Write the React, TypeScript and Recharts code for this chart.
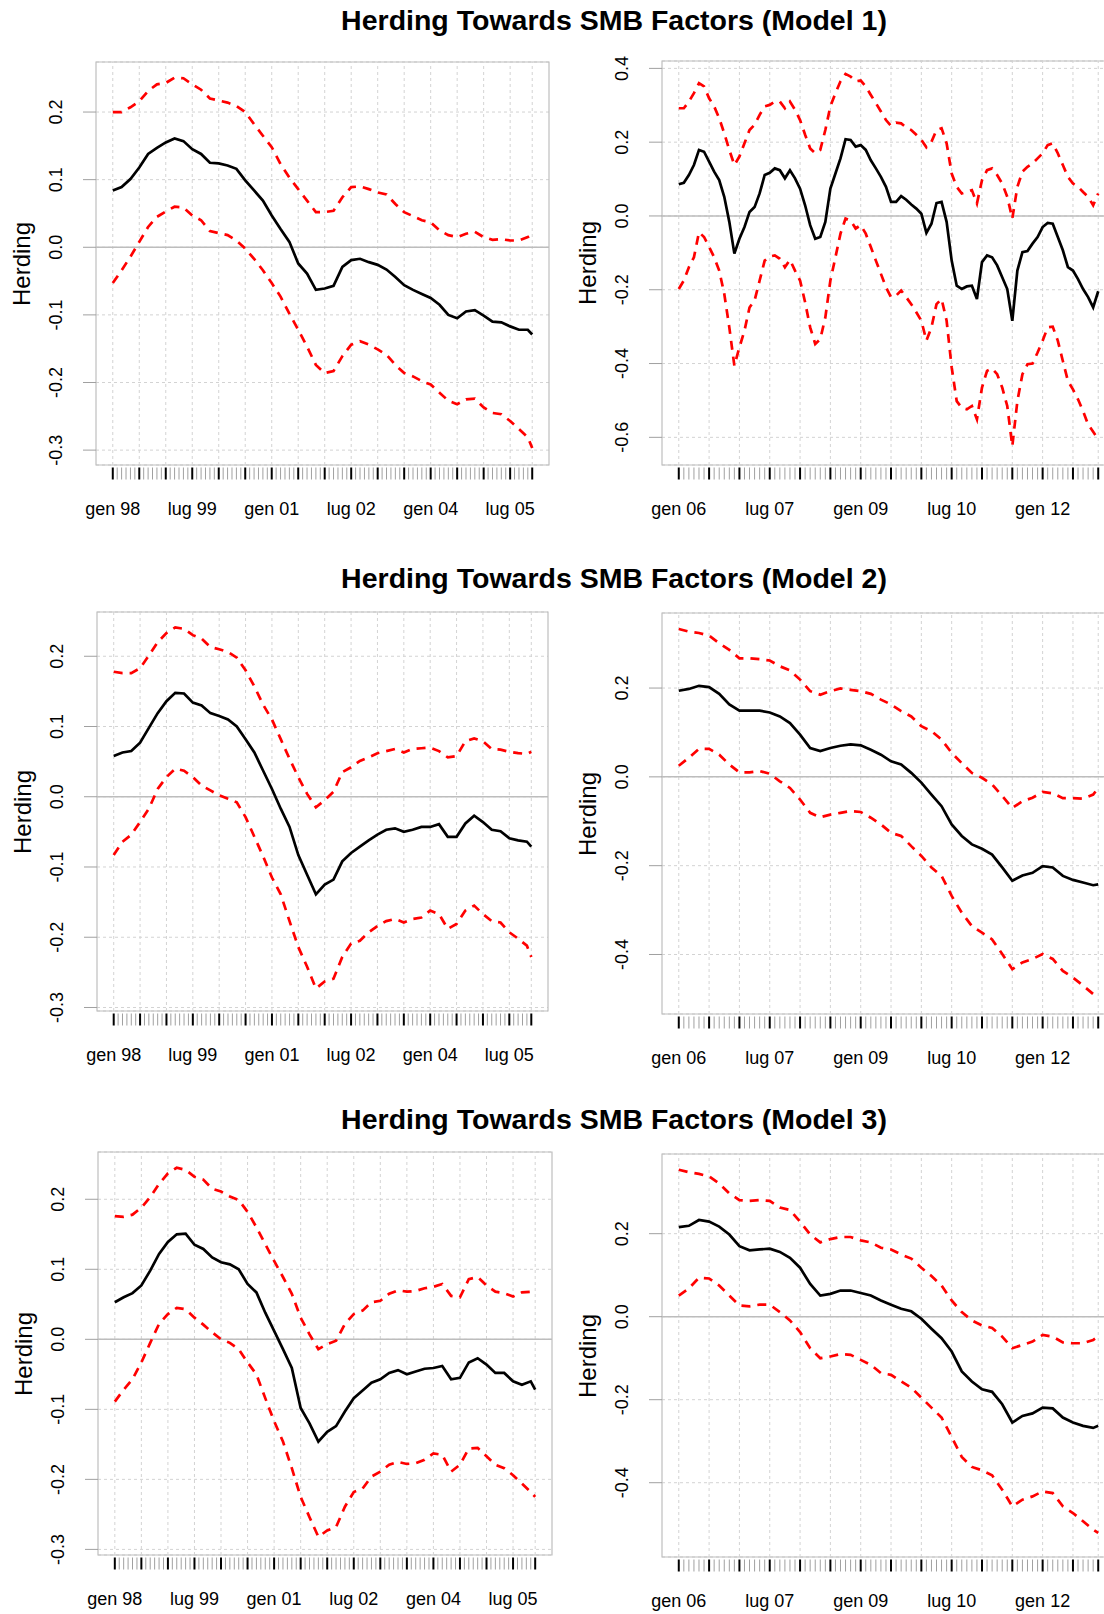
import React from 'react'
import { LineChart, Line, XAxis, YAxis, CartesianGrid, ReferenceLine, ReferenceArea } from 'recharts'

const FONT = '"Liberation Sans", Arial, sans-serif'

// month index 0 = gen 98 (left panels) / gen 06 (right panels)
const LEFT_MONTHS = [...Array.from({ length: 48 }, (_, i) => i * 2), 95]
const RIGHT_MONTHS = [...Array.from({ length: 42 }, (_, i) => i * 2), 83]
const TR_MONTHS = Array.from({ length: 84 }, (_, i) => i)

const LEFT_LABELS = ['gen 98', 'lug 99', 'gen 01', 'lug 02', 'gen 04', 'lug 05']
const LEFT_LABEL_MONTHS = [0, 18, 36, 54, 72, 90]
const RIGHT_LABELS = ['gen 06', 'lug 07', 'gen 09', 'lug 10', 'gen 12']
const RIGHT_LABEL_MONTHS = [0, 18, 36, 54, 72]

const TITLES = [
  'Herding Towards SMB Factors (Model 1)',
  'Herding Towards SMB Factors (Model 2)',
  'Herding Towards SMB Factors (Model 3)',
]

// Model 1, 1998-2005
const TL_EST = [0.084, 0.089, 0.101, 0.118, 0.138, 0.147, 0.155, 0.161, 0.157, 0.145,
  0.138, 0.125, 0.124, 0.121, 0.116, 0.099, 0.084, 0.069, 0.047, 0.027,
  0.008, -0.024, -0.039, -0.063, -0.061, -0.057, -0.029, -0.019, -0.017, -0.022,
  -0.026, -0.033, -0.044, -0.056, -0.063, -0.069, -0.075, -0.085, -0.100, -0.105,
  -0.095, -0.093, -0.101, -0.110, -0.111, -0.117, -0.122, -0.122, -0.129]
const TL_HI = [0.200, 0.200, 0.207, 0.216, 0.231, 0.241, 0.243, 0.251, 0.250, 0.241,
  0.233, 0.220, 0.217, 0.214, 0.209, 0.200, 0.182, 0.165, 0.148, 0.123,
  0.103, 0.086, 0.069, 0.052, 0.052, 0.054, 0.074, 0.089, 0.090, 0.086,
  0.081, 0.078, 0.064, 0.052, 0.046, 0.040, 0.037, 0.025, 0.018, 0.015,
  0.020, 0.023, 0.015, 0.011, 0.012, 0.010, 0.010, 0.015, 0.019]
const TL_LO = [-0.053, -0.034, -0.014, 0.008, 0.030, 0.045, 0.053, 0.060, 0.059, 0.047,
  0.040, 0.024, 0.021, 0.018, 0.010, -0.002, -0.017, -0.034, -0.053, -0.073,
  -0.098, -0.122, -0.147, -0.174, -0.186, -0.183, -0.161, -0.144, -0.139, -0.144,
  -0.151, -0.159, -0.174, -0.186, -0.191, -0.198, -0.203, -0.215, -0.227, -0.232,
  -0.225, -0.224, -0.237, -0.245, -0.247, -0.257, -0.269, -0.281, -0.297]

// Model 1, 2006-2012 (monthly)
const TR_EST = [0.086, 0.090, 0.111, 0.138, 0.179, 0.174, 0.147, 0.120, 0.097, 0.052,
  -0.016, -0.102, -0.062, -0.030, 0.011, 0.024, 0.061, 0.111, 0.117, 0.129,
  0.124, 0.102, 0.124, 0.102, 0.074, 0.029, -0.025, -0.062, -0.057, -0.016,
  0.074, 0.115, 0.156, 0.208, 0.206, 0.188, 0.192, 0.179, 0.151, 0.129,
  0.106, 0.079, 0.038, 0.038, 0.054, 0.044, 0.031, 0.020, 0.006, -0.046,
  -0.021, 0.035, 0.038, -0.016, -0.121, -0.189, -0.198, -0.191, -0.189, -0.225,
  -0.125, -0.107, -0.112, -0.134, -0.166, -0.198, -0.284, -0.148, -0.098, -0.095,
  -0.075, -0.057, -0.030, -0.019, -0.021, -0.057, -0.093, -0.139, -0.148, -0.171,
  -0.198, -0.220, -0.248, -0.204]
const TR_HI = [0.292, 0.292, 0.310, 0.333, 0.360, 0.351, 0.319, 0.297, 0.265, 0.224,
  0.179, 0.138, 0.161, 0.197, 0.233, 0.247, 0.274, 0.297, 0.301, 0.310,
  0.310, 0.292, 0.310, 0.288, 0.260, 0.220, 0.183, 0.170, 0.179, 0.233,
  0.297, 0.333, 0.365, 0.385, 0.378, 0.365, 0.367, 0.351, 0.328, 0.306,
  0.283, 0.260, 0.244, 0.253, 0.251, 0.240, 0.233, 0.220, 0.206, 0.186,
  0.201, 0.233, 0.238, 0.197, 0.115, 0.079, 0.061, 0.065, 0.070, 0.034,
  0.097, 0.124, 0.129, 0.111, 0.088, 0.052, -0.007, 0.079, 0.120, 0.133,
  0.142, 0.156, 0.170, 0.192, 0.197, 0.170, 0.138, 0.106, 0.088, 0.079,
  0.065, 0.052, 0.029, 0.061]
const TR_LO = [-0.198, -0.175, -0.139, -0.112, -0.044, -0.057, -0.084, -0.112, -0.148, -0.211,
  -0.302, -0.406, -0.356, -0.311, -0.248, -0.229, -0.175, -0.121, -0.110, -0.107,
  -0.116, -0.139, -0.119, -0.148, -0.175, -0.234, -0.302, -0.347, -0.334, -0.275,
  -0.175, -0.112, -0.048, -0.007, -0.012, -0.034, -0.025, -0.048, -0.084, -0.121,
  -0.157, -0.193, -0.220, -0.216, -0.202, -0.220, -0.239, -0.261, -0.284, -0.338,
  -0.302, -0.239, -0.225, -0.284, -0.410, -0.502, -0.520, -0.524, -0.515, -0.551,
  -0.465, -0.420, -0.413, -0.429, -0.465, -0.515, -0.624, -0.502, -0.429, -0.402,
  -0.400, -0.370, -0.338, -0.302, -0.300, -0.338, -0.393, -0.447, -0.470, -0.497,
  -0.529, -0.565, -0.585, -0.605]

// Model 2, 1998-2005
const ML_EST = [0.058, 0.063, 0.065, 0.077, 0.098, 0.119, 0.136, 0.148, 0.147, 0.134,
  0.130, 0.119, 0.115, 0.110, 0.100, 0.082, 0.063, 0.037, 0.011, -0.017,
  -0.043, -0.083, -0.111, -0.139, -0.125, -0.118, -0.092, -0.080, -0.071, -0.062,
  -0.054, -0.047, -0.045, -0.050, -0.047, -0.043, -0.043, -0.039, -0.057, -0.057,
  -0.038, -0.027, -0.036, -0.047, -0.049, -0.059, -0.062, -0.064, -0.071]
const ML_HI = [0.178, 0.176, 0.176, 0.183, 0.201, 0.220, 0.233, 0.241, 0.239, 0.230,
  0.225, 0.213, 0.210, 0.206, 0.198, 0.180, 0.157, 0.131, 0.110, 0.082,
  0.054, 0.028, 0.004, -0.015, -0.005, 0.007, 0.035, 0.042, 0.051, 0.056,
  0.062, 0.065, 0.068, 0.063, 0.068, 0.069, 0.070, 0.065, 0.056, 0.058,
  0.079, 0.083, 0.079, 0.068, 0.067, 0.064, 0.062, 0.061, 0.064]
const ML_LO = [-0.083, -0.064, -0.054, -0.036, -0.017, 0.011, 0.028, 0.040, 0.037, 0.028,
  0.016, 0.009, 0.002, -0.003, -0.008, -0.029, -0.057, -0.085, -0.115, -0.139,
  -0.177, -0.214, -0.242, -0.273, -0.263, -0.259, -0.228, -0.209, -0.205, -0.193,
  -0.184, -0.177, -0.174, -0.179, -0.174, -0.172, -0.162, -0.167, -0.188, -0.181,
  -0.162, -0.155, -0.167, -0.177, -0.179, -0.193, -0.202, -0.212, -0.228]

// Model 2, 2006-2012
const MR_EST = [0.194, 0.198, 0.205, 0.202, 0.187, 0.163, 0.149, 0.149, 0.149, 0.145,
  0.136, 0.121, 0.095, 0.065, 0.058, 0.065, 0.070, 0.073, 0.071, 0.061,
  0.050, 0.035, 0.028, 0.009, -0.013, -0.040, -0.066, -0.107, -0.133, -0.152,
  -0.162, -0.175, -0.204, -0.234, -0.222, -0.216, -0.201, -0.204, -0.223, -0.232,
  -0.238, -0.244, -0.242]
const MR_HI = [0.333, 0.327, 0.324, 0.318, 0.301, 0.286, 0.267, 0.267, 0.265, 0.262,
  0.249, 0.240, 0.219, 0.193, 0.185, 0.193, 0.199, 0.196, 0.193, 0.187,
  0.174, 0.163, 0.148, 0.136, 0.114, 0.103, 0.084, 0.054, 0.031, 0.009,
  -0.002, -0.017, -0.043, -0.070, -0.055, -0.047, -0.034, -0.037, -0.048, -0.048,
  -0.049, -0.040, -0.025]
const MR_LO = [0.025, 0.043, 0.063, 0.063, 0.050, 0.028, 0.010, 0.010, 0.013, 0.007,
  -0.010, -0.025, -0.051, -0.081, -0.091, -0.085, -0.081, -0.077, -0.079, -0.092,
  -0.107, -0.126, -0.133, -0.156, -0.178, -0.204, -0.223, -0.268, -0.306, -0.336,
  -0.351, -0.366, -0.399, -0.433, -0.418, -0.410, -0.399, -0.410, -0.437, -0.452,
  -0.470, -0.489, -0.491]

// Model 3, 1998-2005
const BL_EST = [0.053, 0.060, 0.066, 0.077, 0.098, 0.122, 0.139, 0.150, 0.151, 0.135,
  0.129, 0.117, 0.110, 0.107, 0.100, 0.079, 0.067, 0.038, 0.012, -0.014,
  -0.041, -0.098, -0.120, -0.146, -0.132, -0.124, -0.103, -0.084, -0.073, -0.062,
  -0.057, -0.048, -0.044, -0.050, -0.046, -0.042, -0.041, -0.038, -0.057, -0.055,
  -0.033, -0.027, -0.036, -0.048, -0.048, -0.060, -0.065, -0.060, -0.072]
const BL_HI = [0.176, 0.175, 0.178, 0.188, 0.203, 0.222, 0.237, 0.245, 0.242, 0.232,
  0.228, 0.215, 0.211, 0.204, 0.199, 0.182, 0.160, 0.136, 0.112, 0.089,
  0.065, 0.031, 0.007, -0.014, -0.007, -0.002, 0.022, 0.036, 0.041, 0.053,
  0.055, 0.065, 0.070, 0.068, 0.069, 0.073, 0.075, 0.079, 0.062, 0.060,
  0.086, 0.089, 0.077, 0.068, 0.066, 0.061, 0.067, 0.068, 0.068]
const BL_LO = [-0.089, -0.072, -0.057, -0.033, -0.005, 0.022, 0.036, 0.045, 0.043, 0.031,
  0.021, 0.010, 0.000, -0.005, -0.014, -0.033, -0.050, -0.084, -0.117, -0.146,
  -0.184, -0.225, -0.254, -0.282, -0.273, -0.268, -0.239, -0.218, -0.213, -0.196,
  -0.189, -0.179, -0.175, -0.178, -0.177, -0.172, -0.163, -0.165, -0.189, -0.179,
  -0.156, -0.155, -0.167, -0.179, -0.184, -0.194, -0.206, -0.218, -0.225]

// Model 3, 2006-2012
const BR_EST = [0.216, 0.219, 0.233, 0.229, 0.217, 0.198, 0.170, 0.160, 0.162, 0.164,
  0.156, 0.142, 0.118, 0.079, 0.051, 0.055, 0.063, 0.063, 0.057, 0.051,
  0.039, 0.029, 0.019, 0.013, -0.005, -0.029, -0.052, -0.084, -0.132, -0.156,
  -0.175, -0.181, -0.211, -0.255, -0.239, -0.233, -0.219, -0.221, -0.243, -0.255,
  -0.263, -0.268, -0.263]
const BR_HI = [0.354, 0.348, 0.344, 0.338, 0.321, 0.297, 0.281, 0.279, 0.281, 0.279,
  0.263, 0.257, 0.229, 0.198, 0.179, 0.187, 0.192, 0.192, 0.184, 0.179,
  0.166, 0.162, 0.150, 0.140, 0.118, 0.098, 0.075, 0.039, 0.011, -0.009,
  -0.021, -0.027, -0.048, -0.076, -0.068, -0.060, -0.044, -0.048, -0.062, -0.064,
  -0.064, -0.056, -0.048]
const BR_LO = [0.051, 0.068, 0.094, 0.092, 0.075, 0.051, 0.027, 0.025, 0.029, 0.029,
  0.011, -0.009, -0.037, -0.076, -0.100, -0.096, -0.090, -0.092, -0.104, -0.116,
  -0.136, -0.140, -0.156, -0.171, -0.195, -0.219, -0.243, -0.290, -0.338, -0.362,
  -0.370, -0.382, -0.417, -0.457, -0.441, -0.433, -0.421, -0.425, -0.457, -0.473,
  -0.493, -0.513, -0.521]

const TICKS_01 = [-0.3, -0.2, -0.1, 0, 0.1, 0.2]
const TICKS_TR = [-0.6, -0.4, -0.2, 0, 0.2, 0.4]
const TICKS_02 = [-0.4, -0.2, 0, 0.2]

const Y_AXIS_W = 100
const PAD_TOP = 10
const PAD_RIGHT = 10
const X_AXIS_H = 60

const toRows = (months: number[], est: number[], hi: number[], lo: number[]) =>
  months.map((t, i) => ({ t, est: est[i], hi: hi[i], lo: lo[i] }))

const range = (n: number) => Array.from({ length: n }, (_, i) => i)

interface PanelProps {
  rows: Array<{ t: number; est: number; hi: number; lo: number }>
  nMonths: number
  labels: string[]
  labelMonths: number[]
  xDomain: [number, number]
  yDomain: [number, number]
  yTicks: number[]
  frame: { left: number; top: number; width: number; height: number }
}

function Panel({ rows, nMonths, labels, labelMonths, xDomain, yDomain, yTicks, frame }: PanelProps) {
  const months = range(nMonths)
  const last = nMonths - 1
  const majors = [...months.filter((m) => m % 6 === 0), last]
  const plotBottom = PAD_TOP + frame.height

  const XTick = (props: any) => {
    const { x, payload } = props
    const m = payload.value
    const major = majors.includes(m)
    const li = labelMonths.indexOf(m)
    return (
      <g>
        <line x1={x} x2={x} y1={plotBottom + 2.5} y2={plotBottom + 14.5}
          stroke={major ? '#000' : '#a0a0a0'} strokeWidth={major ? 2 : 1} />
        {li >= 0 && (
          <text x={x} y={plotBottom + 44} textAnchor="middle" dominantBaseline="central"
            fontSize={18} fontFamily={FONT} fill="#000">{labels[li]}</text>
        )}
      </g>
    )
  }

  const YTick = (props: any) => {
    const { y, payload } = props
    const lx = Y_AXIS_W - 40
    return (
      <g>
        <line x1={Y_AXIS_W - 13} x2={Y_AXIS_W} y1={y} y2={y} stroke="#a0a0a0" />
        <text x={lx} y={y} transform={`rotate(-90 ${lx} ${y})`} textAnchor="middle"
          dominantBaseline="central" fontSize={18} fontFamily={FONT} fill="#000">
          {payload.value.toFixed(1)}
        </text>
      </g>
    )
  }

  return (
    <>
      <div style={{ position: 'absolute', left: frame.left - Y_AXIS_W, top: frame.top - PAD_TOP }}>
        <LineChart
          width={Y_AXIS_W + frame.width + PAD_RIGHT}
          height={PAD_TOP + frame.height + X_AXIS_H}
          data={rows}
          margin={{ top: PAD_TOP, right: PAD_RIGHT, left: 0, bottom: 0 }}
        >
          <CartesianGrid vertical={false} stroke="#d3d3d3" strokeDasharray="3 3" />
          <XAxis
            dataKey="t"
            type="number"
            domain={xDomain}
            allowDataOverflow
            ticks={months}
            interval={0}
            tick={XTick}
            tickLine={false}
            axisLine={false}
            height={X_AXIS_H}
          />
          <YAxis
            type="number"
            domain={yDomain}
            allowDataOverflow
            ticks={yTicks}
            interval={0}
            tick={YTick}
            tickLine={false}
            axisLine={false}
            width={Y_AXIS_W}
          />
          {majors.map((m) => (
            <ReferenceLine key={m} x={m} stroke="#d3d3d3" strokeDasharray="3 3" />
          ))}
          <ReferenceLine y={0} stroke="#bdbdbd" strokeWidth={1.5} />
          <ReferenceArea x1={xDomain[0]} x2={xDomain[1]} y1={yDomain[0]} y2={yDomain[1]}
            fill="none" fillOpacity={0} stroke="#bebebe" strokeWidth={1.2} />
          <Line dataKey="hi" type="linear" stroke="#ff0000" strokeWidth={2.7}
            strokeDasharray="9 7" dot={false} isAnimationActive={false} />
          <Line dataKey="lo" type="linear" stroke="#ff0000" strokeWidth={2.7}
            strokeDasharray="9 7" dot={false} isAnimationActive={false} />
          <Line dataKey="est" type="linear" stroke="#000" strokeWidth={2.7}
            dot={false} isAnimationActive={false} />
        </LineChart>
      </div>
      <div
        style={{
          position: 'absolute',
          left: frame.left - 74,
          top: frame.top + frame.height / 2,
          transform: 'translate(-50%, -50%) rotate(-90deg)',
          fontFamily: FONT,
          fontSize: 24,
          whiteSpace: 'nowrap',
          lineHeight: 1,
        }}
      >
        Herding
      </div>
    </>
  )
}

const LEFT_X: [number, number] = [-3.8, 98.8]
const RIGHT_X: [number, number] = [-3.32, 86.32]

export default function App() {
  const titleStyle = (cy: number): React.CSSProperties => ({
    position: 'absolute',
    left: 614,
    top: cy,
    transform: 'translate(-50%, -50%)',
    fontFamily: FONT,
    fontWeight: 700,
    fontSize: 28.5,
    whiteSpace: 'nowrap',
    lineHeight: 1,
  })

  return (
    <div style={{ position: 'absolute', left: 0, top: 0, width: 1104, height: 1614, overflow: 'hidden', background: '#fff' }}>
      <div style={titleStyle(20)}>{TITLES[0]}</div>
      <div style={titleStyle(578)}>{TITLES[1]}</div>
      <div style={titleStyle(1119)}>{TITLES[2]}</div>

      <Panel rows={toRows(LEFT_MONTHS, TL_EST, TL_HI, TL_LO)} nMonths={96}
        labels={LEFT_LABELS} labelMonths={LEFT_LABEL_MONTHS}
        xDomain={LEFT_X} yDomain={[-0.322, 0.274]} yTicks={TICKS_01}
        frame={{ left: 96, top: 62, width: 453, height: 403 }} />
      <Panel rows={toRows(TR_MONTHS, TR_EST, TR_HI, TR_LO)} nMonths={84}
        labels={RIGHT_LABELS} labelMonths={RIGHT_LABEL_MONTHS}
        xDomain={RIGHT_X} yDomain={[-0.675, 0.42]} yTicks={TICKS_TR}
        frame={{ left: 662, top: 61, width: 453, height: 404 }} />

      <Panel rows={toRows(LEFT_MONTHS, ML_EST, ML_HI, ML_LO)} nMonths={96}
        labels={LEFT_LABELS} labelMonths={LEFT_LABEL_MONTHS}
        xDomain={LEFT_X} yDomain={[-0.305, 0.263]} yTicks={TICKS_01}
        frame={{ left: 97, top: 612, width: 451, height: 399 }} />
      <Panel rows={toRows(RIGHT_MONTHS, MR_EST, MR_HI, MR_LO)} nMonths={84}
        labels={RIGHT_LABELS} labelMonths={RIGHT_LABEL_MONTHS}
        xDomain={RIGHT_X} yDomain={[-0.534, 0.369]} yTicks={TICKS_02}
        frame={{ left: 662, top: 613, width: 453, height: 401 }} />

      <Panel rows={toRows(LEFT_MONTHS, BL_EST, BL_HI, BL_LO)} nMonths={96}
        labels={LEFT_LABELS} labelMonths={LEFT_LABEL_MONTHS}
        xDomain={LEFT_X} yDomain={[-0.308, 0.2675]} yTicks={TICKS_01}
        frame={{ left: 98, top: 1152, width: 454, height: 403 }} />
      <Panel rows={toRows(RIGHT_MONTHS, BR_EST, BR_HI, BR_LO)} nMonths={84}
        labels={RIGHT_LABELS} labelMonths={RIGHT_LABEL_MONTHS}
        xDomain={RIGHT_X} yDomain={[-0.579, 0.392]} yTicks={TICKS_02}
        frame={{ left: 662, top: 1154, width: 453, height: 403 }} />
    </div>
  )
}
